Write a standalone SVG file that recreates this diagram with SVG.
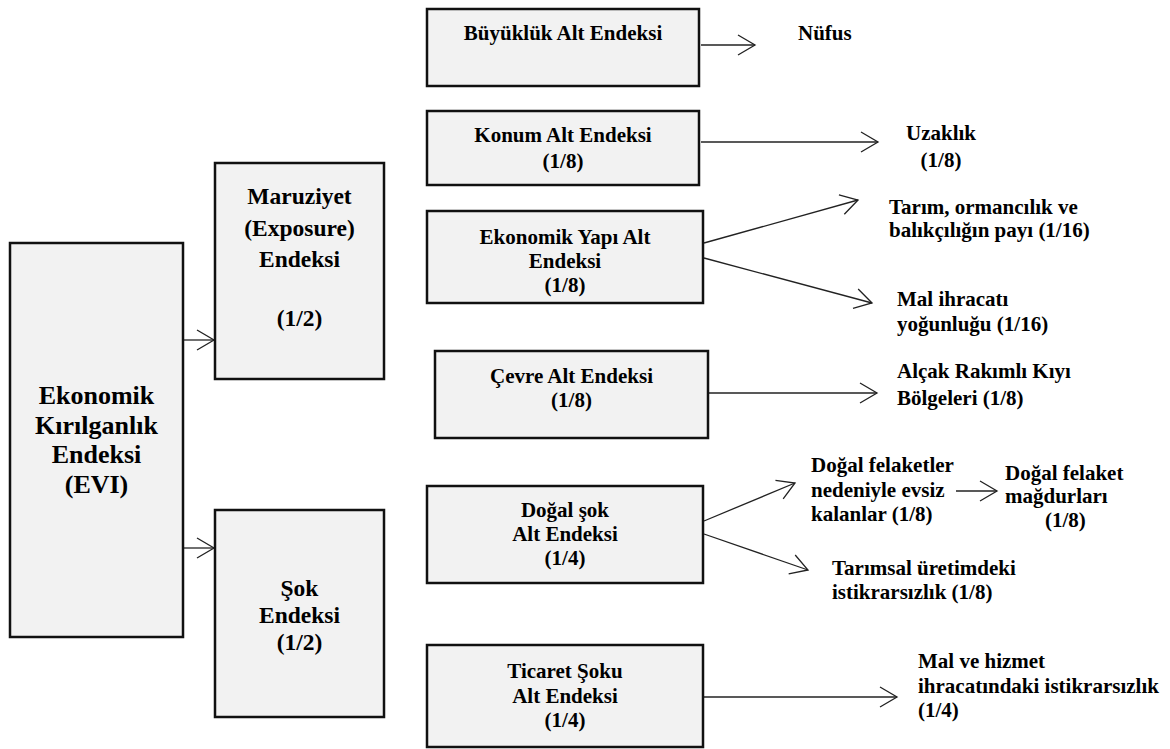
<svg xmlns="http://www.w3.org/2000/svg" width="1170" height="749" viewBox="0 0 1170 749">
<style>
.box{fill:#f2f2f2;stroke:#111;stroke-width:2.5}
.t{font-size:21px}
.c{text-anchor:middle}
.m{font-size:23.5px}
.b{font-size:26px}
.ln{fill:none;stroke:#222;stroke-width:1.3}
</style>
<defs>
<marker id="ah" markerUnits="userSpaceOnUse" markerWidth="20" markerHeight="22" refX="17" refY="10" orient="auto" overflow="visible">
<path d="M0,0 L17,10 L0,20" fill="none" stroke="#222" stroke-width="1.3"/>
</marker>
</defs>
<g id="connectors">
<line class="ln" x1="183" y1="340" x2="214" y2="340" marker-end="url(#ah)"/>
<line class="ln" x1="183" y1="548" x2="214" y2="548" marker-end="url(#ah)"/>
<line class="ln" x1="701" y1="45" x2="755" y2="45" marker-end="url(#ah)"/>
<line class="ln" x1="701" y1="142" x2="878" y2="142" marker-end="url(#ah)"/>
<line class="ln" x1="704" y1="243" x2="858" y2="200" marker-end="url(#ah)"/>
<line class="ln" x1="704" y1="258" x2="872" y2="303" marker-end="url(#ah)"/>
<line class="ln" x1="709" y1="393" x2="877" y2="393" marker-end="url(#ah)"/>
<line class="ln" x1="704" y1="521" x2="795" y2="483" marker-end="url(#ah)"/>
<line class="ln" x1="704" y1="534" x2="808" y2="570" marker-end="url(#ah)"/>
<line class="ln" x1="956" y1="491" x2="997" y2="491" marker-end="url(#ah)"/>
<line class="ln" x1="704" y1="697" x2="897" y2="697" marker-end="url(#ah)"/>
</g>
<g font-family="'Liberation Serif', 'Times New Roman', serif" font-weight="bold" fill="#000">
<g id="evi">
<rect class="box" x="10" y="243" width="173" height="394"/>
<text class="b c" x="96.5" y="404">Ekonomik</text>
<text class="b c" x="96.5" y="434">Kırılganlık</text>
<text class="b c" x="96.5" y="463">Endeksi</text>
<text class="b c" x="96.5" y="493">(EVI)</text>
</g>
<g id="maruziyet">
<rect class="box" x="215" y="163" width="169" height="216"/>
<text class="m c" x="299.5" y="204">Maruziyet</text>
<text class="m c" x="299.5" y="236">(Exposure)</text>
<text class="m c" x="299.5" y="267">Endeksi</text>
<text class="m c" x="299.5" y="326">(1/2)</text>
</g>
<g id="sok">
<rect class="box" x="215" y="510" width="169" height="207"/>
<text class="m c" x="299.5" y="596">Şok</text>
<text class="m c" x="299.5" y="623">Endeksi</text>
<text class="m c" x="299.5" y="650">(1/2)</text>
</g>
<g id="buyukluk">
<rect class="box" x="427" y="9" width="272" height="77"/>
<text class="t c" x="563" y="40">Büyüklük Alt Endeksi</text>
</g>
<g id="konum">
<rect class="box" x="427" y="111" width="272" height="74"/>
<text class="t c" x="563" y="142">Konum Alt Endeksi</text>
<text class="t c" x="563" y="168">(1/8)</text>
</g>
<g id="ekonomik-yapi">
<rect class="box" x="427" y="211" width="276" height="92"/>
<text class="t c" x="565" y="244">Ekonomik Yapı Alt</text>
<text class="t c" x="565" y="268">Endeksi</text>
<text class="t c" x="565" y="292">(1/8)</text>
</g>
<g id="cevre">
<rect class="box" x="435" y="351" width="273" height="87"/>
<text class="t c" x="571.5" y="383">Çevre Alt Endeksi</text>
<text class="t c" x="571.5" y="407">(1/8)</text>
</g>
<g id="dogal-sok">
<rect class="box" x="427" y="486" width="276" height="97"/>
<text class="t c" x="565" y="517">Doğal şok</text>
<text class="t c" x="565" y="541">Alt Endeksi</text>
<text class="t c" x="565" y="565">(1/4)</text>
</g>
<g id="ticaret">
<rect class="box" x="427" y="645" width="276" height="102"/>
<text class="t c" x="565" y="678">Ticaret Şoku</text>
<text class="t c" x="565" y="703">Alt Endeksi</text>
<text class="t c" x="565" y="727">(1/4)</text>
</g>
<g id="nufus"><text class="t" x="798" y="40">Nüfus</text></g>
<g id="uzaklik">
<text class="t c" x="941" y="140">Uzaklık</text>
<text class="t c" x="941" y="167">(1/8)</text>
</g>
<g id="tarim-payi">
<text class="t" x="889" y="214">Tarım, ormancılık ve</text>
<text class="t" x="889" y="237">balıkçılığın payı (1/16)</text>
</g>
<g id="mal-ihracati">
<text class="t" x="897" y="306">Mal ihracatı</text>
<text class="t" x="897" y="331">yoğunluğu (1/16)</text>
</g>
<g id="alcak-rakim">
<text class="t" x="897" y="378">Alçak Rakımlı Kıyı</text>
<text class="t" x="897" y="405">Bölgeleri (1/8)</text>
</g>
<g id="evsiz">
<text class="t" x="811" y="472">Doğal felaketler</text>
<text class="t" x="811" y="497">nedeniyle evsiz</text>
<text class="t" x="811" y="521">kalanlar (1/8)</text>
</g>
<g id="magdurlar">
<text class="t" x="1005" y="480">Doğal felaket</text>
<text class="t" x="1005" y="503">mağdurları</text>
<text class="t" x="1045" y="527">(1/8)</text>
</g>
<g id="tarimsal">
<text class="t" x="832" y="575">Tarımsal üretimdeki</text>
<text class="t" x="832" y="599">istikrarsızlık (1/8)</text>
</g>
<g id="ticaret-istikrar">
<text class="t" x="918" y="668">Mal ve hizmet</text>
<text class="t" x="918" y="693">ihracatındaki istikrarsızlık</text>
<text class="t" x="918" y="717">(1/4)</text>
</g>
</g>
</svg>
